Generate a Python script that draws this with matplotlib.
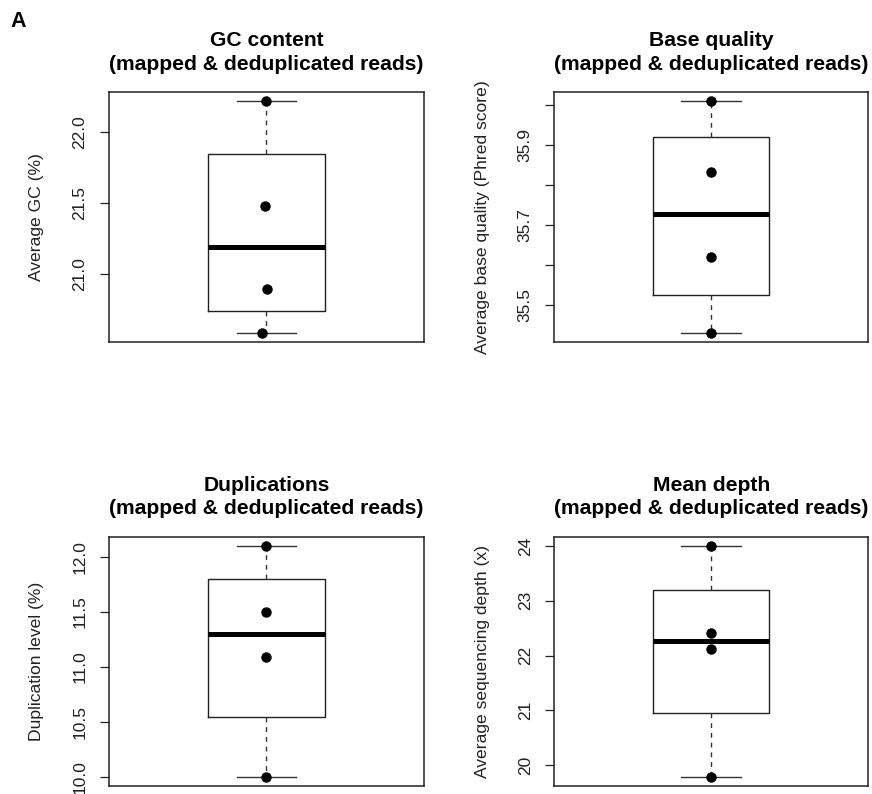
import numpy as np
import matplotlib
matplotlib.use("Agg")
import matplotlib.pyplot as plt

plt.rcParams['font.family'] = ['Liberation Sans', 'DejaVu Sans']

# values per sample (4 samples)
gc_content = [22.22, 21.48, 20.90, 20.59]
base_quality = [36.009, 35.832, 35.62, 35.43]
duplications = [12.10, 11.50, 11.095, 10.00]
mean_depth = [24.00, 22.405, 22.12, 19.78]

# small horizontal jitter of the points (as in stripchart)
gc_jitter = [-0.003, -0.005, 0.003, -0.014]
zero_jitter = [0, 0, 0, 0]

titles = ["GC content\n(mapped & deduplicated reads)",
          "Base quality\n(mapped & deduplicated reads)",
          "Duplications\n(mapped & deduplicated reads)",
          "Mean depth\n(mapped & deduplicated reads)"]
ylabels = ["Average GC (%)",
           "Average base quality (Phred score)",
           "Duplication level (%)",
           "Average sequencing depth (x)"]
yticks = [[21.0, 21.5, 22.0],
          [35.5, 35.6, 35.7, 35.8, 35.9, 36.0],
          [10.0, 10.5, 11.0, 11.5, 12.0],
          [20, 21, 22, 23, 24]]
yticklabels = [["21.0", "21.5", "22.0"],
               ["35.5", "", "35.7", "", "35.9", ""],
               ["10.0", "10.5", "11.0", "11.5", "12.0"],
               ["20", "21", "22", "23", "24"]]


def fivenum(v):
    # Tukey five-number summary, like R's fivenum()
    x = np.sort(np.asarray(v, dtype=float))
    n = len(x)
    n4 = np.floor((n + 3) / 2) / 2
    d = np.array([1, n4, (n + 1) / 2, n + 1 - n4, n]) - 1
    return 0.5 * (x[np.floor(d).astype(int)] + x[np.ceil(d).astype(int)])


fig = plt.figure(figsize=(8.72, 7.94), dpi=100)
positions = [[0.125, 0.5693, 0.3612, 0.3149],
             [0.6357, 0.5693, 0.3598, 0.3149],
             [0.125, 0.0095, 0.3612, 0.3146],
             [0.6357, 0.0095, 0.3598, 0.3146]]
datasets = [gc_content, base_quality, duplications, mean_depth]
jitters = [gc_jitter, zero_jitter, zero_jitter, zero_jitter]

for i in range(4):
    ax = fig.add_axes(positions[i])
    vals = datasets[i]
    lo, q1, med, q3, hi = fivenum(vals)
    stats = [dict(med=med, q1=q1, q3=q3, whislo=lo, whishi=hi, fliers=[])]
    ax.bxp(stats, positions=[1], widths=0.37, showfliers=False,
           boxprops=dict(color='#222222', linewidth=1.0),
           medianprops=dict(color='black', linewidth=3.6, solid_capstyle='butt'),
           whiskerprops=dict(color='#333333', linewidth=1.0, linestyle=(0, (3.5, 3.5))),
           capprops=dict(color='#333333', linewidth=1.0),
           capwidths=0.19)
    ax.plot(1 + np.array(jitters[i]), vals, 'o', color='black', markersize=6.5, zorder=5)

    rng = max(vals) - min(vals)
    ax.set_ylim(min(vals) - 0.04 * rng, max(vals) + 0.04 * rng)
    ax.set_xlim(0.5, 1.5)
    ax.set_xticks([])
    ax.set_yticks(yticks[i])
    ax.set_yticklabels(yticklabels[i], rotation=90, va='center')
    ax.tick_params(axis='y', length=6.5, width=0.9, pad=9, labelsize=12.5,
                   colors='#222222')
    for s in ax.spines.values():
        s.set_linewidth(1.1)
        s.set_color('#222222')
    ax.set_ylabel(ylabels[i], fontsize=12.6, color='#222222')
    ax.yaxis.set_label_coords(-0.205, 0.5)
    ax.set_title(titles[i], fontsize=15.2, fontweight='bold', pad=16,
                 linespacing=1.3)

fig.text(0.012, 0.966, "A", fontsize=15.5, fontweight='bold')

fig.savefig("out.png", dpi=100)
